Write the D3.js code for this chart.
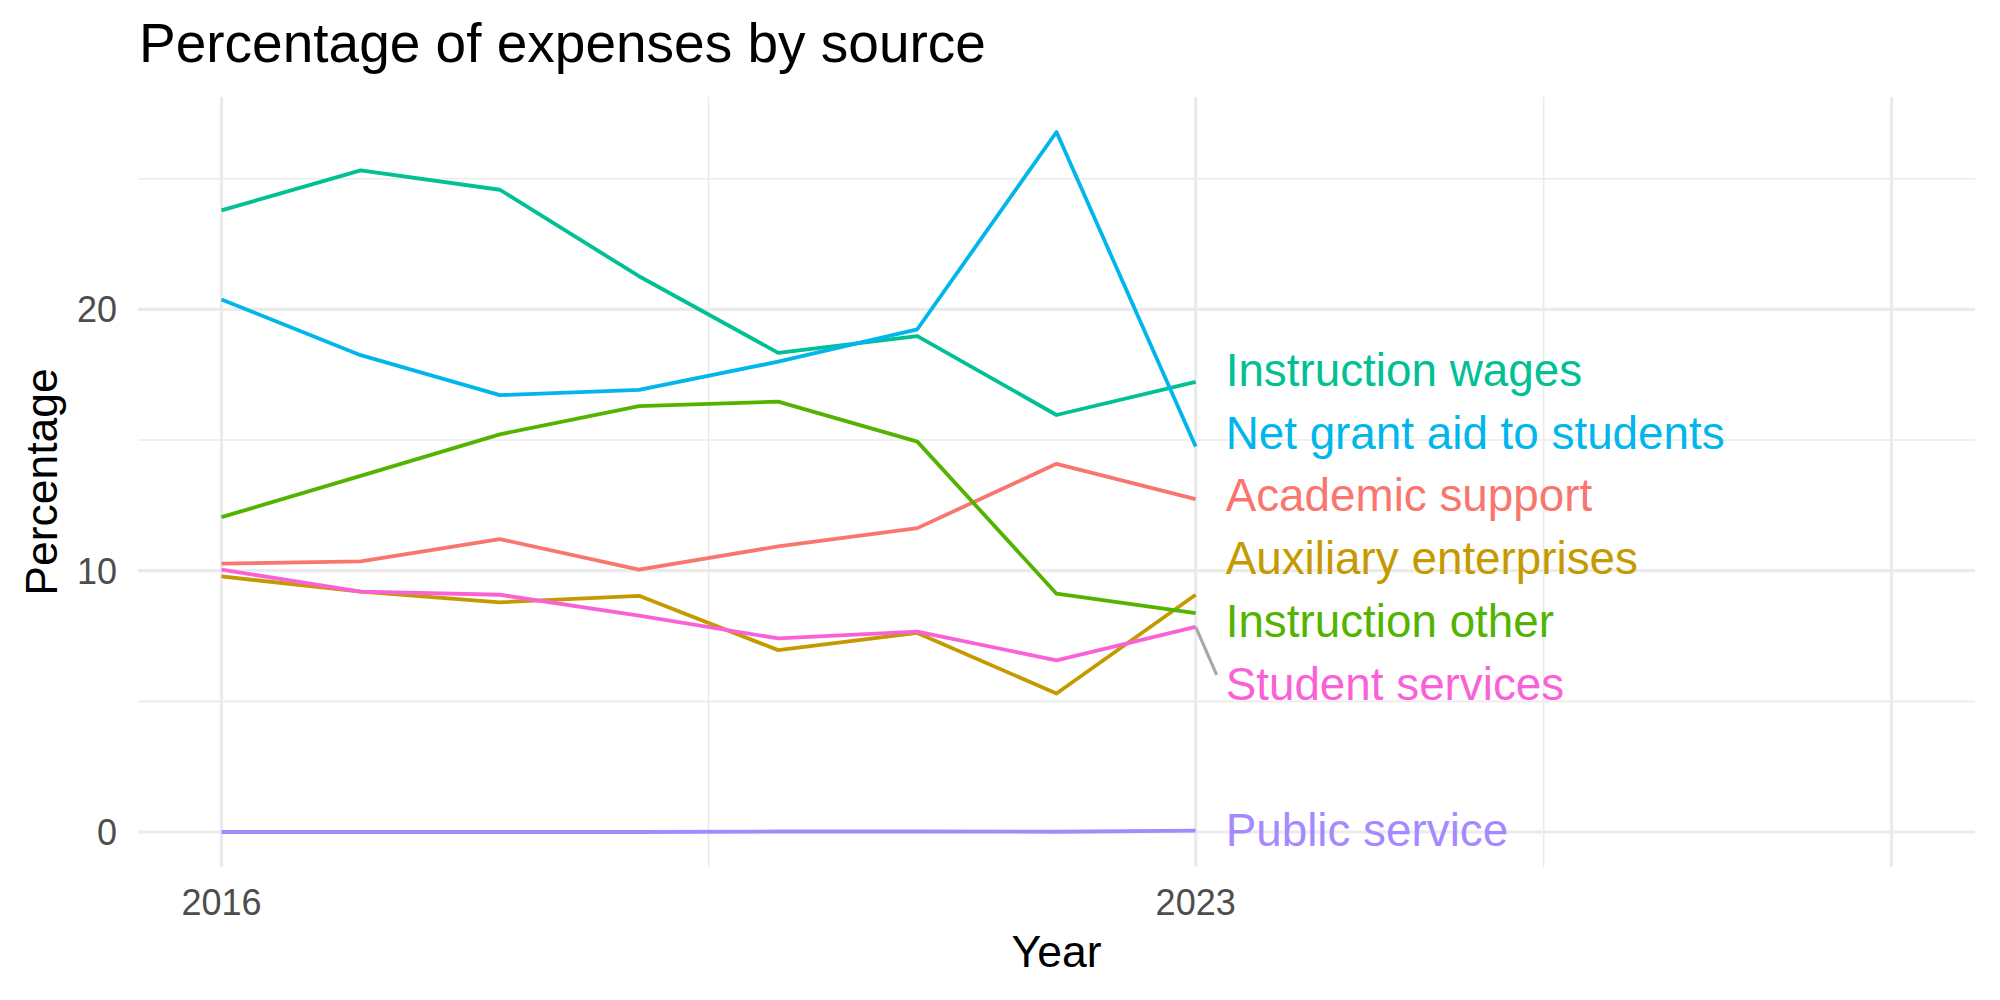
<!DOCTYPE html>
<html>
<head>
<meta charset="utf-8">
<script src="https://cdn.jsdelivr.net/npm/d3@7"></script>
<style>
  html, body { margin: 0; padding: 0; background: #ffffff; }
  svg { display: block; font-family: "Liberation Sans", Arial, Helvetica, sans-serif; }
</style>
</head>
<body>
<svg id="chart" width="2000" height="1000"></svg>
<script>
// ---------------- data ----------------
const years = [2016, 2017, 2018, 2019, 2020, 2021, 2022, 2023];
const categories = ["Academic support", "Auxiliary enterprises", "Instruction other",
  "Instruction wages", "Net grant aid to students", "Public service", "Student services"];
const academicSupport      = [10.27, 10.36, 11.21, 10.04, 10.93, 11.63, 14.09, 12.74];
const auxiliaryEnterprises = [9.78, 9.20, 8.79, 9.04, 6.96, 7.62, 5.30, 9.08];
const instructionOther     = [12.05, 13.63, 15.22, 16.30, 16.47, 14.94, 9.12, 8.38];
const instructionWages     = [23.79, 25.32, 24.58, 21.27, 18.34, 18.98, 15.96, 17.23];
const netGrantAid          = [20.38, 18.25, 16.72, 16.92, 18.00, 19.24, 26.79, 14.75];
const publicService        = [0.00, 0.00, 0.00, 0.00, 0.02, 0.02, 0.01, 0.05];
const studentServices      = [10.04, 9.20, 9.08, 8.28, 7.41, 7.67, 6.57, 7.85];
const seriesValues = [academicSupport, auxiliaryEnterprises, instructionOther,
  instructionWages, netGrantAid, publicService, studentServices];
const colors = ["#F8766D", "#C49A00", "#53B400", "#00C094", "#00B6EB", "#A58AFF", "#FB61D7"];
const xLimits = [2016, 2028];
const xBreaks = [2016, 2023, 2028];
const xTickLabels = ["2016", "2023", ""];
const xMinorBreaks = [2019.5, 2025.5];
const yBreaks = [0, 10, 20];
const yTickLabels = ["0", "10", "20"];
const yMinorBreaks = [5, 15, 25];
const titleText = "Percentage of expenses by source";
const xTitle = "Year";
const yTitle = "Percentage";

// ---------------- layout ----------------
const panel = { left: 138, right: 1975, top: 97, bottom: 867 };
const svg = d3.select("#chart");
svg.append("rect").attr("width", 2000).attr("height", 1000).attr("fill", "#ffffff");

const allVals = seriesValues.flat();
const yMin = Math.min(0, d3.min(allVals)), yMax = d3.max(allVals);
const yPad = (yMax - yMin) * 0.05;
const xPad = (xLimits[1] - xLimits[0]) * 0.05;

const x = d3.scaleLinear().domain([xLimits[0] - xPad, xLimits[1] + xPad]).range([panel.left, panel.right]);
const y = d3.scaleLinear().domain([yMin - yPad, yMax + yPad]).range([panel.bottom, panel.top]);

// grid
const grid = svg.append("g");
grid.selectAll(".yminor").data(yMinorBreaks).join("line")
  .attr("x1", panel.left).attr("x2", panel.right)
  .attr("y1", d => y(d)).attr("y2", d => y(d))
  .attr("stroke", "#EBEBEB").attr("stroke-width", 1.6);
grid.selectAll(".xminor").data(xMinorBreaks).join("line")
  .attr("y1", panel.top).attr("y2", panel.bottom)
  .attr("x1", d => x(d)).attr("x2", d => x(d))
  .attr("stroke", "#EBEBEB").attr("stroke-width", 1.6);
grid.selectAll(".ymajor").data(yBreaks).join("line")
  .attr("x1", panel.left).attr("x2", panel.right)
  .attr("y1", d => y(d)).attr("y2", d => y(d))
  .attr("stroke", "#EBEBEB").attr("stroke-width", 3.2);
grid.selectAll(".xmajor").data(xBreaks).join("line")
  .attr("y1", panel.top).attr("y2", panel.bottom)
  .attr("x1", d => x(d)).attr("x2", d => x(d))
  .attr("stroke", "#EBEBEB").attr("stroke-width", 3.2);

// axes text
const tickSize = 36;
svg.append("g").selectAll("text").data(yBreaks).join("text")
  .attr("x", 117).attr("y", d => y(d)).attr("dy", "0.36em")
  .attr("text-anchor", "end").attr("font-size", tickSize).attr("fill", "#4D4D4D")
  .text((d, i) => yTickLabels[i]);
svg.append("g").selectAll("text").data(xBreaks).join("text")
  .attr("x", d => x(d)).attr("y", 915)
  .attr("text-anchor", "middle").attr("font-size", tickSize).attr("fill", "#4D4D4D")
  .text((d, i) => xTickLabels[i]);

svg.append("text").attr("x", (panel.left + panel.right) / 2).attr("y", 967)
  .attr("text-anchor", "middle").attr("font-size", 44.5).attr("fill", "#000")
  .text(xTitle);
svg.append("text")
  .attr("transform", `translate(57,${(panel.top + panel.bottom) / 2}) rotate(-90)`)
  .attr("text-anchor", "middle").attr("font-size", 44.5).attr("fill", "#000")
  .text(yTitle);
svg.append("text").attr("x", panel.left + 1).attr("y", 62)
  .attr("font-size", 55).attr("fill", "#000").text(titleText);

// lines
const line = d3.line().x((d, i) => x(years[i])).y(d => y(d));
svg.append("g").selectAll("path").data(seriesValues).join("path")
  .attr("d", d => line(d))
  .attr("fill", "none")
  .attr("stroke", (d, i) => colors[i])
  .attr("stroke-width", 3.8)
  .attr("stroke-linejoin", "round");

// end labels (simple 1-D repel: keep minimum spacing, least-squares placement)
const labelFont = 45.8;
const gap = labelFont * 1.37;
const items = categories.map((c, i) => ({ name: c, color: colors[i],
  target: y(seriesValues[i][seriesValues[i].length - 1]) }))
  .sort((a, b) => a.target - b.target);
let clusters = [];
items.forEach(it => {
  let cl = { members: [it] };
  cl.top = it.target;
  clusters.push(cl);
  while (clusters.length > 1) {
    const c2 = clusters[clusters.length - 1], c1 = clusters[clusters.length - 2];
    const c1Bottom = c1.top + (c1.members.length - 1) * gap;
    if (c1Bottom + gap > c2.top) {
      const merged = { members: c1.members.concat(c2.members) };
      merged.top = d3.mean(merged.members, (m, k) => m.target - k * gap);
      clusters.splice(clusters.length - 2, 2, merged);
    } else break;
  }
});
clusters.forEach(cl => cl.members.forEach((m, k) => { m.pos = cl.top + k * gap; }));

const labelX = x(years[years.length - 1]) + 30;
const lg = svg.append("g");
items.forEach(m => {
  if (Math.abs(m.pos - m.target) > 45) {
    const dir = m.pos > m.target ? -1 : 1;
    lg.append("line")
      .attr("x1", x(years[years.length - 1])).attr("y1", m.target)
      .attr("x2", labelX - 9).attr("y2", m.pos + dir * 9)
      .attr("stroke", "#A8A8A8").attr("stroke-width", 3.2);
  }
  lg.append("text").attr("x", labelX).attr("y", m.pos).attr("dy", "0.345em")
    .attr("font-size", labelFont).attr("fill", m.color).text(m.name);
});
</script>
</body>
</html>
